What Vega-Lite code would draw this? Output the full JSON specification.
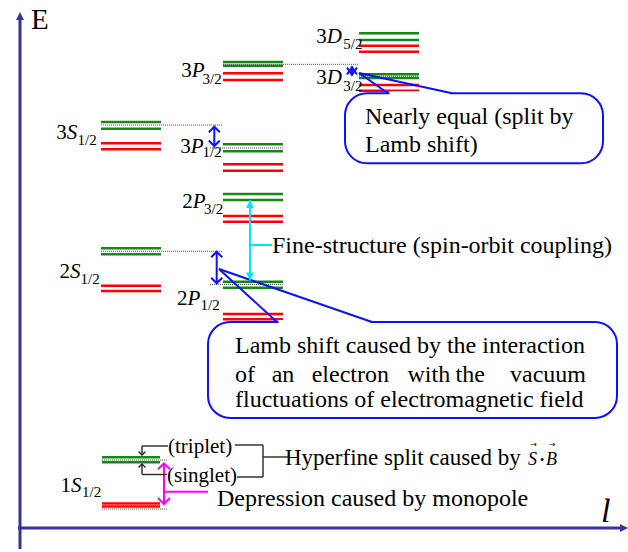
{
"$schema":"https://vega.github.io/schema/vega-lite/v6.json",
"width":628,"height":552,"padding":0,"autosize":{"type":"none"},
"background":"white",
"config":{"view":{"stroke":null}},
"datasets":{
"axes":[{"axis":"E","x":20,"y":549,"x2":20,"y2":18},{"axis":"l","x":18,"y":528,"x2":621,"y2":528}],
"axisTipE":[{"axis":"E","x":20,"y":16}],
"axisTipL":[{"axis":"l","x":624,"y":528}],
"levels":[
{"state":"3D5/2","band":"upper","E":33.3,"xa":359,"xb":419},
{"state":"3D5/2","band":"upper","E":40,"xa":359,"xb":419},
{"state":"3D5/2","band":"lower","E":45.7,"xa":359,"xb":419},
{"state":"3D5/2","band":"lower","E":51.7,"xa":359,"xb":419},
{"state":"3D3/2","band":"upper","E":74.3,"xa":359,"xb":419},
{"state":"3D3/2","band":"upper","E":78,"xa":359,"xb":419},
{"state":"3D3/2","band":"lower","E":85,"xa":359,"xb":419},
{"state":"3D3/2","band":"lower","E":90.7,"xa":359,"xb":419},
{"state":"3P3/2","band":"upper","E":62,"xa":223,"xb":283},
{"state":"3P3/2","band":"upper","E":65.7,"xa":223,"xb":283},
{"state":"3P3/2","band":"lower","E":73.3,"xa":223,"xb":283},
{"state":"3P3/2","band":"lower","E":80,"xa":223,"xb":283},
{"state":"3S1/2","band":"upper","E":122,"xa":101,"xb":161},
{"state":"3S1/2","band":"upper","E":128.7,"xa":101,"xb":161},
{"state":"3S1/2","band":"lower","E":143.3,"xa":101,"xb":161},
{"state":"3S1/2","band":"lower","E":149.3,"xa":101,"xb":161},
{"state":"3P1/2","band":"upper","E":144.3,"xa":223,"xb":283},
{"state":"3P1/2","band":"upper","E":151.3,"xa":223,"xb":283},
{"state":"3P1/2","band":"lower","E":164.3,"xa":223,"xb":283},
{"state":"3P1/2","band":"lower","E":170.7,"xa":223,"xb":283},
{"state":"2P3/2","band":"upper","E":194,"xa":223,"xb":283},
{"state":"2P3/2","band":"upper","E":200,"xa":223,"xb":283},
{"state":"2P3/2","band":"lower","E":216,"xa":223,"xb":283},
{"state":"2P3/2","band":"lower","E":221.7,"xa":223,"xb":283},
{"state":"2S1/2","band":"upper","E":248.3,"xa":101,"xb":161},
{"state":"2S1/2","band":"upper","E":254.3,"xa":101,"xb":161},
{"state":"2S1/2","band":"lower","E":285.7,"xa":101,"xb":161},
{"state":"2S1/2","band":"lower","E":291,"xa":101,"xb":161},
{"state":"2P1/2","band":"upper","E":281.7,"xa":223,"xb":283},
{"state":"2P1/2","band":"upper","E":287.7,"xa":223,"xb":283},
{"state":"2P1/2","band":"lower","E":314,"xa":223,"xb":283},
{"state":"2P1/2","band":"lower","E":319.3,"xa":223,"xb":283},
{"state":"1S1/2","band":"upper","E":457.3,"xa":102,"xb":160},
{"state":"1S1/2","band":"upper","E":462.3,"xa":102,"xb":160},
{"state":"1S1/2","band":"lower","E":503.5,"xa":102,"xb":160},
{"state":"1S1/2","band":"lower","E":506.5,"xa":102,"xb":160}
],
"refs":[{"y":64.3,"xa":223,"xb":358},{"y":76.2,"xa":359,"xb":419},{"y":125,"xa":101,"xb":222},{"y":148,"xa":210,"xb":284},{"y":251.3,"xa":101,"xb":222},{"y":284.5,"xa":210,"xb":284},{"y":460,"xa":102,"xb":168},{"y":509,"xa":102,"xb":168}],
"callouts":[{"name":"nearly","x":345,"x2":603,"y":93.3,"y2":163.3},{"name":"lamb","x":208,"x2":617,"y":322,"y2":418}],
"gaps":[{"x":389.5,"x2":450.5,"y":93.3},{"x":278.5,"x2":370.5,"y":322}],
"pointers":[{"x":359,"y":73,"x2":388,"y2":93.3},{"x":359,"y":73,"x2":452,"y2":93.3},{"x":219,"y":269,"x2":277,"y2":322},{"x":219,"y":269,"x2":372,"y2":322}],
"arrows":[
{"name":"3S-3P1/2","kind":"lamb","x":214.3,"top":126.7,"bottom":146},
{"name":"2S-2P1/2","kind":"lamb","x":216.7,"top":251.7,"bottom":283.3},
{"name":"3P3/2-3D3/2","kind":"lambsmall","x":352,"top":67,"bottom":75},
{"name":"monopole","kind":"mono","x":164,"top":463.3,"bottom":504},
{"name":"fine","kind":"fine","x":250,"top":200,"bottom":280.5}
],
"segs":[
{"kind":"hf","x":168,"y":446,"x2":142,"y2":446},
{"kind":"hf","x":142,"y":446,"x2":142,"y2":455},
{"kind":"hf","x":142,"y":464,"x2":142,"y2":474.5},
{"kind":"hf","x":142,"y":474.5,"x2":167,"y2":474.5},
{"kind":"hf","x":235,"y":445,"x2":263,"y2":445},
{"kind":"hf","x":263,"y":445,"x2":263,"y2":477},
{"kind":"hf","x":237,"y":477,"x2":263,"y2":477},
{"kind":"hf","x":263,"y":457,"x2":290,"y2":457},
{"kind":"fine","x":250,"y":245,"x2":272,"y2":245},
{"kind":"mono","x":165,"y":491.7,"x2":208,"y2":491.7}
],
"hfheads":[{"x":142,"y":455,"dir":"down"},{"x":142,"y":464,"dir":"up"}],
"labels":[
{"state":"3D5/2","n":"3","L":"D","s":"5/2","xj":326.7,"xs":343.3,"yb":43.3,"ys":49.3},
{"state":"3D3/2","n":"3","L":"D","s":"3/2","xj":326.7,"xs":343.3,"yb":84.3,"ys":90.7},
{"state":"3P3/2","n":"3","L":"P","s":"3/2","xj":191.7,"xs":202.5,"yb":77.3,"ys":84.3},
{"state":"3S1/2","n":"3","L":"S","s":"1/2","xj":66.7,"xs":77.5,"yb":139.3,"ys":145},
{"state":"3P1/2","n":"3","L":"P","s":"1/2","xj":190.7,"xs":202.5,"yb":152.7,"ys":157},
{"state":"2P3/2","n":"2","L":"P","s":"3/2","xj":192.7,"xs":204,"yb":207.7,"ys":214},
{"state":"2S1/2","n":"2","L":"S","s":"1/2","xj":70,"xs":80.5,"yb":278.3,"ys":284.3},
{"state":"2P1/2","n":"2","L":"P","s":"1/2","xj":187.5,"xs":200.5,"yb":305,"ys":310},
{"state":"1S1/2","n":"1","L":"S","s":"1/2","xj":71,"xs":82,"yb":491.7,"ys":496.7}
],
"notes":[
{"t":"Nearly equal (split by","x":365,"y":124},
{"t":"Lamb shift)","x":365,"y":151.7},
{"t":"Fine-structure (spin-orbit coupling)","x":272,"y":253.3},
{"t":"Lamb shift caused by the interaction","x":235,"y":353.3},
{"t":"of","x":235,"y":381.7},
{"t":"an","x":271.7,"y":381.7},
{"t":"electron","x":311.7,"y":381.7},
{"t":"with","x":407.5,"y":381.7},
{"t":"the","x":455.5,"y":381.7},
{"t":"vacuum","x":510,"y":381.7},
{"t":"fluctuations of electromagnetic field","x":235,"y":407.3},
{"t":"Depression caused by monopole","x":217,"y":506}
],
"hyper":[{"t":"Hyperfine split caused by","x":285,"y":465}],
"small":[{"t":"(triplet)","x":168,"y":453.3},{"t":"(singlet)","x":167,"y":481.7}],
"vecs":[{"t":"S","x":528,"y":465},{"t":"B","x":546,"y":465}],
"vecarrows":[{"t":"→","x":533.5,"y":444.5},{"t":"→","x":552,"y":444.5}],
"dot":[{"t":"•","x":542,"y":459.5}],
"axisE":[{"t":"E","x":31,"y":28.5}],
"axisL":[{"t":"l","x":601,"y":521.7}]
},
"layer":[
{"data":{"name":"axes"},"mark":{"type":"rule","color":"#333399","strokeWidth":3},
 "encoding":{"x":{"field":"x","type":"quantitative","scale":{"domain":[0,628],"nice":false,"zero":false},"axis":null},
  "y":{"field":"y","type":"quantitative","scale":{"domain":[0,552],"nice":false,"zero":false,"reverse":true},"axis":null},
  "x2":{"field":"x2"},"y2":{"field":"y2"}}},
{"data":{"name":"axisTipE"},"mark":{"type":"point","shape":"M-1,1L0,-1L1,1Z","size":64,"filled":true,"color":"#333399","opacity":1},
 "encoding":{"x":{"field":"x","type":"quantitative"},"y":{"field":"y","type":"quantitative"}}},
{"data":{"name":"axisTipL"},"mark":{"type":"point","shape":"M-1,-1L1,0L-1,1Z","size":64,"filled":true,"color":"#333399","opacity":1},
 "encoding":{"x":{"field":"x","type":"quantitative"},"y":{"field":"y","type":"quantitative"}}},
{"data":{"name":"levels"},"mark":{"type":"rule","strokeWidth":2.5},
 "encoding":{"x":{"field":"xa","type":"quantitative"},"x2":{"field":"xb"},"y":{"field":"E","type":"quantitative"},
  "color":{"field":"band","type":"nominal","scale":{"domain":["upper","lower"],"range":["#138813","#ff0000"]},"legend":null}}},
{"data":{"name":"refs"},"mark":{"type":"rule","strokeWidth":1,"color":"#555555","strokeDash":[1,1]},
 "encoding":{"x":{"field":"xa","type":"quantitative"},"x2":{"field":"xb"},"y":{"field":"y","type":"quantitative"}}},
{"data":{"name":"callouts"},"mark":{"type":"rect","fill":"white","stroke":"#1010ff","strokeWidth":2,"cornerRadius":22},
 "encoding":{"x":{"field":"x","type":"quantitative"},"x2":{"field":"x2"},"y":{"field":"y","type":"quantitative"},"y2":{"field":"y2"}}},
{"data":{"name":"gaps"},"mark":{"type":"rule","color":"white","strokeWidth":4},
 "encoding":{"x":{"field":"x","type":"quantitative"},"x2":{"field":"x2"},"y":{"field":"y","type":"quantitative"}}},
{"data":{"name":"pointers"},"mark":{"type":"rule","color":"#1010ff","strokeWidth":2},
 "encoding":{"x":{"field":"x","type":"quantitative"},"x2":{"field":"x2"},"y":{"field":"y","type":"quantitative"},"y2":{"field":"y2"}}},
{"data":{"name":"arrows"},"transform":[{"filter":"datum.kind==='lamb' || datum.kind==='lambsmall'"}],"mark":{"type":"rule","color":"#1010ff","strokeWidth":2},
 "encoding":{"x":{"field":"x","type":"quantitative"},"y":{"field":"top","type":"quantitative"},"y2":{"field":"bottom"}}},
{"data":{"name":"arrows"},"transform":[{"filter":"datum.kind==='mono'"}],"mark":{"type":"rule","color":"#ff00ff","strokeWidth":2},
 "encoding":{"x":{"field":"x","type":"quantitative"},"y":{"field":"top","type":"quantitative"},"y2":{"field":"bottom"}}},
{"data":{"name":"arrows"},"transform":[{"filter":"datum.kind==='fine'"}],"mark":{"type":"rule","color":"#00e5ff","strokeWidth":2},
 "encoding":{"x":{"field":"x","type":"quantitative"},"y":{"field":"top","type":"quantitative"},"y2":{"field":"bottom"}}},
{"data":{"name":"arrows"},"transform":[{"filter":"datum.kind==='lamb'"}],"mark":{"type":"point","shape":"M-1,1L0,0L1,1","size":121,"filled":false,"color":"#1010ff","strokeWidth":2,"opacity":1},
 "encoding":{"x":{"field":"x","type":"quantitative"},"y":{"field":"top","type":"quantitative"}}},
{"data":{"name":"arrows"},"transform":[{"filter":"datum.kind==='lamb'"}],"mark":{"type":"point","shape":"M-1,-1L0,0L1,-1","size":121,"filled":false,"color":"#1010ff","strokeWidth":2,"opacity":1},
 "encoding":{"x":{"field":"x","type":"quantitative"},"y":{"field":"bottom","type":"quantitative"}}},
{"data":{"name":"arrows"},"transform":[{"filter":"datum.kind==='lambsmall'"}],"mark":{"type":"point","shape":"M-1,1.5L0,0L1,1.5","size":100,"filled":false,"color":"#1010ff","strokeWidth":2,"opacity":1},
 "encoding":{"x":{"field":"x","type":"quantitative"},"y":{"field":"top","type":"quantitative"}}},
{"data":{"name":"arrows"},"transform":[{"filter":"datum.kind==='lambsmall'"}],"mark":{"type":"point","shape":"M-1,-1.5L0,0L1,-1.5","size":100,"filled":false,"color":"#1010ff","strokeWidth":2,"opacity":1},
 "encoding":{"x":{"field":"x","type":"quantitative"},"y":{"field":"bottom","type":"quantitative"}}},
{"data":{"name":"arrows"},"transform":[{"filter":"datum.kind==='mono'"}],"mark":{"type":"point","shape":"M-1,1L0,0L1,1","size":144,"filled":false,"color":"#ff00ff","strokeWidth":2,"opacity":1},
 "encoding":{"x":{"field":"x","type":"quantitative"},"y":{"field":"top","type":"quantitative"}}},
{"data":{"name":"arrows"},"transform":[{"filter":"datum.kind==='mono'"}],"mark":{"type":"point","shape":"M-1,-1L0,0L1,-1","size":144,"filled":false,"color":"#ff00ff","strokeWidth":2,"opacity":1},
 "encoding":{"x":{"field":"x","type":"quantitative"},"y":{"field":"bottom","type":"quantitative"}}},
{"data":{"name":"arrows"},"transform":[{"filter":"datum.kind==='fine'"}],"mark":{"type":"point","shape":"M-1,2L0,0L1,2Z","size":64,"filled":true,"color":"#00e5ff","opacity":1},
 "encoding":{"x":{"field":"x","type":"quantitative"},"y":{"field":"top","type":"quantitative"}}},
{"data":{"name":"arrows"},"transform":[{"filter":"datum.kind==='fine'"}],"mark":{"type":"point","shape":"M-1,-2L0,0L1,-2Z","size":64,"filled":true,"color":"#00e5ff","opacity":1},
 "encoding":{"x":{"field":"x","type":"quantitative"},"y":{"field":"bottom","type":"quantitative"}}},
{"data":{"name":"segs"},"transform":[{"filter":"datum.kind==='hf'"}],"mark":{"type":"rule","color":"#333333","strokeWidth":1.5},
 "encoding":{"x":{"field":"x","type":"quantitative"},"x2":{"field":"x2"},"y":{"field":"y","type":"quantitative"},"y2":{"field":"y2"}}},
{"data":{"name":"segs"},"transform":[{"filter":"datum.kind==='fine'"}],"mark":{"type":"rule","color":"#00e5ff","strokeWidth":2},
 "encoding":{"x":{"field":"x","type":"quantitative"},"x2":{"field":"x2"},"y":{"field":"y","type":"quantitative"},"y2":{"field":"y2"}}},
{"data":{"name":"segs"},"transform":[{"filter":"datum.kind==='mono'"}],"mark":{"type":"rule","color":"#ff00ff","strokeWidth":2},
 "encoding":{"x":{"field":"x","type":"quantitative"},"x2":{"field":"x2"},"y":{"field":"y","type":"quantitative"},"y2":{"field":"y2"}}},
{"data":{"name":"hfheads"},"transform":[{"filter":"datum.dir==='down'"}],"mark":{"type":"point","shape":"M-1,-1L0,0L1,-1","size":49,"filled":false,"color":"#222222","strokeWidth":1.3,"opacity":1},
 "encoding":{"x":{"field":"x","type":"quantitative"},"y":{"field":"y","type":"quantitative"}}},
{"data":{"name":"hfheads"},"transform":[{"filter":"datum.dir==='up'"}],"mark":{"type":"point","shape":"M-1,1L0,0L1,1","size":49,"filled":false,"color":"#222222","strokeWidth":1.3,"opacity":1},
 "encoding":{"x":{"field":"x","type":"quantitative"},"y":{"field":"y","type":"quantitative"}}},
{"data":{"name":"labels"},"mark":{"type":"text","font":"Liberation Serif","align":"right","baseline":"alphabetic","fontSize":21,"color":"black"},
 "encoding":{"x":{"field":"xj","type":"quantitative"},"y":{"field":"yb","type":"quantitative"},"text":{"field":"n"}}},
{"data":{"name":"labels"},"mark":{"type":"text","font":"Liberation Serif","align":"left","baseline":"alphabetic","fontSize":21,"fontStyle":"italic","color":"black"},
 "encoding":{"x":{"field":"xj","type":"quantitative"},"y":{"field":"yb","type":"quantitative"},"text":{"field":"L"}}},
{"data":{"name":"labels"},"mark":{"type":"text","font":"Liberation Serif","align":"left","baseline":"alphabetic","fontSize":15,"color":"black"},
 "encoding":{"x":{"field":"xs","type":"quantitative"},"y":{"field":"ys","type":"quantitative"},"text":{"field":"s"}}},
{"data":{"name":"notes"},"mark":{"type":"text","font":"Liberation Serif","align":"left","baseline":"alphabetic","fontSize":24,"color":"black"},
 "encoding":{"x":{"field":"x","type":"quantitative"},"y":{"field":"y","type":"quantitative"},"text":{"field":"t"}}},
{"data":{"name":"hyper"},"mark":{"type":"text","font":"Liberation Serif","align":"left","baseline":"alphabetic","fontSize":23,"color":"black"},
 "encoding":{"x":{"field":"x","type":"quantitative"},"y":{"field":"y","type":"quantitative"},"text":{"field":"t"}}},
{"data":{"name":"small"},"mark":{"type":"text","font":"Liberation Serif","align":"left","baseline":"alphabetic","fontSize":21,"color":"black"},
 "encoding":{"x":{"field":"x","type":"quantitative"},"y":{"field":"y","type":"quantitative"},"text":{"field":"t"}}},
{"data":{"name":"vecs"},"mark":{"type":"text","font":"Liberation Serif","align":"left","baseline":"alphabetic","fontSize":18,"fontStyle":"italic","color":"black"},
 "encoding":{"x":{"field":"x","type":"quantitative"},"y":{"field":"y","type":"quantitative"},"text":{"field":"t"}}},
{"data":{"name":"vecarrows"},"mark":{"type":"text","align":"center","baseline":"middle","fontSize":8,"font":"DejaVu Sans","color":"black"},
 "encoding":{"x":{"field":"x","type":"quantitative"},"y":{"field":"y","type":"quantitative"},"text":{"field":"t"}}},
{"data":{"name":"dot"},"mark":{"type":"text","font":"Liberation Serif","align":"center","baseline":"middle","fontSize":12,"color":"black"},
 "encoding":{"x":{"field":"x","type":"quantitative"},"y":{"field":"y","type":"quantitative"},"text":{"field":"t"}}},
{"data":{"name":"axisE"},"mark":{"type":"text","font":"Liberation Serif","align":"left","baseline":"alphabetic","fontSize":29,"color":"black"},
 "encoding":{"x":{"field":"x","type":"quantitative"},"y":{"field":"y","type":"quantitative"},"text":{"field":"t"}}},
{"data":{"name":"axisL"},"mark":{"type":"text","font":"Liberation Serif","align":"left","baseline":"alphabetic","fontSize":34,"fontStyle":"italic","color":"black"},
 "encoding":{"x":{"field":"x","type":"quantitative"},"y":{"field":"y","type":"quantitative"},"text":{"field":"t"}}}
]
}
